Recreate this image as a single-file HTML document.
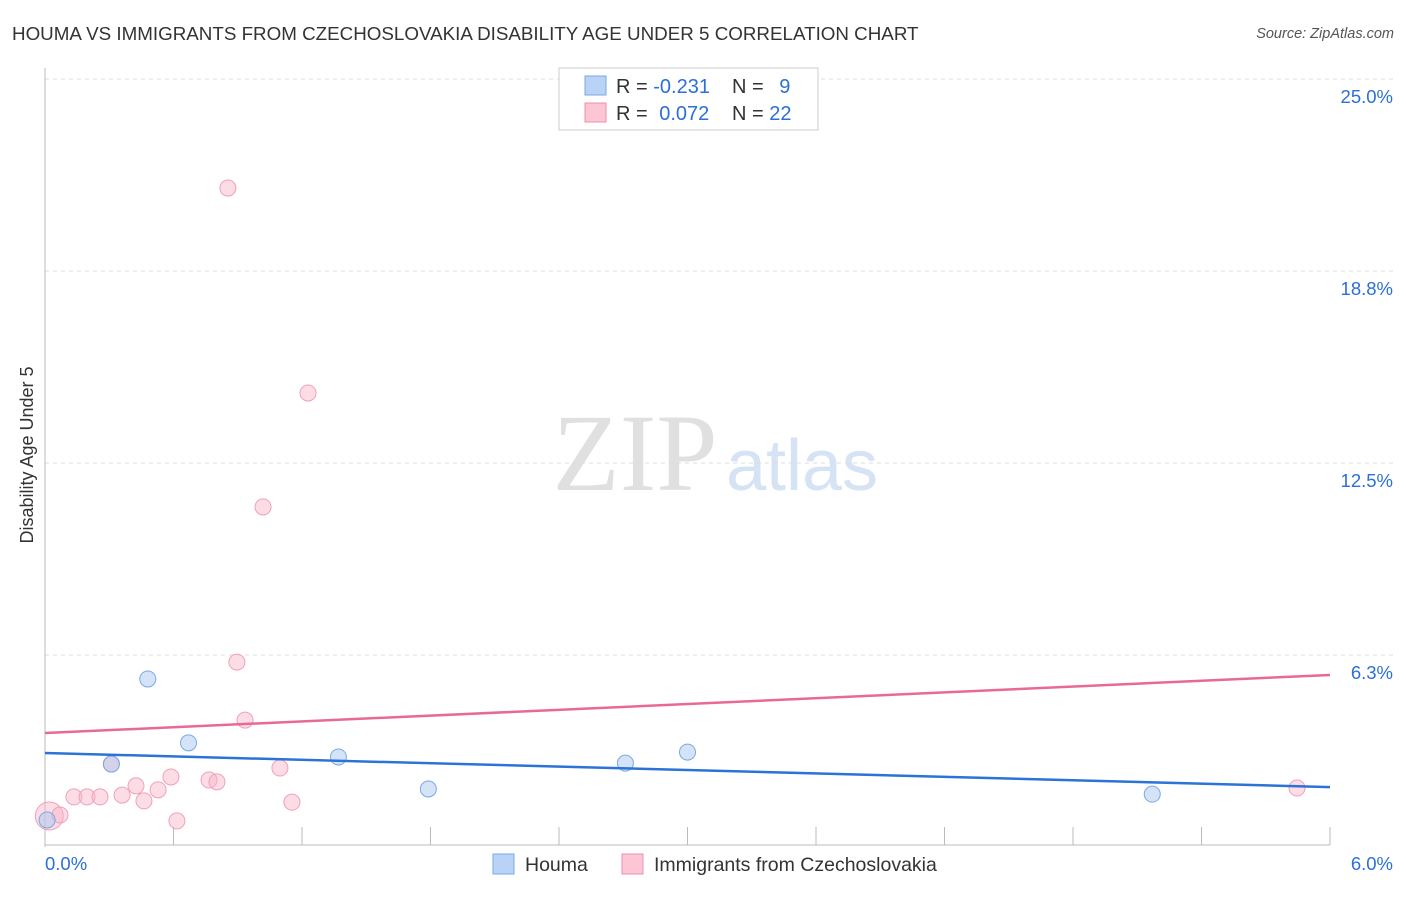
<!DOCTYPE html>
<html><head><meta charset="utf-8"><style>
body{margin:0;background:#fff;font-family:"Liberation Sans",sans-serif;}
svg text{font-family:"Liberation Sans",sans-serif;}
</style></head><body>
<svg id="c" width="1406" height="892">
<text x="12" y="40" font-size="18.8" fill="#333">HOUMA VS IMMIGRANTS FROM CZECHOSLOVAKIA DISABILITY AGE UNDER 5 CORRELATION CHART</text>
<text x="1394" y="38" font-size="14.5" fill="#555" font-style="italic" text-anchor="end">Source: ZipAtlas.com</text>
<text x="33" y="455" font-size="18" fill="#333" text-anchor="middle" transform="rotate(-90 33 455)">Disability Age Under 5</text>
<g><text x="635" y="490" font-size="110" fill="#e0e0e0" font-family="Liberation Serif" style="font-family:'Liberation Serif',serif" text-anchor="middle">ZIP</text><text x="802" y="490" font-size="72" fill="#d5e3f5" text-anchor="middle">atlas</text></g>
<g id="grid"></g><g id="marks"></g>
<g>
<rect x="559" y="68" width="259" height="62" fill="#fff" stroke="#ccc"/>
<rect x="585" y="76" width="21" height="19" fill="#b8d3f5" stroke="#7aa8e6"/>
<rect x="585" y="103" width="21" height="19" fill="#fcc6d5" stroke="#ee8fac"/>
<text x="616" y="93" font-size="20" fill="#333">R = <tspan fill="#2c6fd6">-0.231</tspan></text>
<text x="732" y="93" font-size="20" fill="#333">N = <tspan fill="#2c6fd6" dx="10">9</tspan></text>
<text x="616" y="120" font-size="20" fill="#333">R = <tspan fill="#2c6fd6" dx="6">0.072</tspan></text>
<text x="732" y="120" font-size="20" fill="#333">N = <tspan fill="#2c6fd6">22</tspan></text>
</g>
<g>
<rect x="493" y="854" width="21" height="20" fill="#b8d3f5" stroke="#7aa8e6"/>
<text x="525" y="871" font-size="19.5" fill="#333">Houma</text>
<rect x="622" y="854" width="21" height="20" fill="#fcc6d5" stroke="#ee8fac"/>
<text x="654" y="871" font-size="19.5" fill="#333">Immigrants from Czechoslovakia</text>
</g>
</svg>
<script>
const yTicks=[6.25,12.5,18.75,25];
const yTickLabels=["6.3%","12.5%","18.8%","25.0%"];
const xTickLabels=["0.0%","6.0%"];
const houmaX=[0.01,0.31,0.48,0.67,1.37,1.79,2.71,3.0,5.17];
const houmaY=[0.88,2.7,5.47,3.39,2.93,1.89,2.73,3.09,1.72];
const czX=[0.02,0.07,0.135,0.196,0.257,0.31,0.36,0.425,0.462,0.528,0.588,0.616,0.766,0.803,0.854,0.896,0.934,1.018,1.097,1.153,1.228,5.846];
const czY=[1.01,1.04,1.63,1.63,1.63,2.7,1.69,1.99,1.5,1.86,2.28,0.85,2.18,2.12,21.45,6.02,4.13,11.07,2.57,1.46,14.78,1.92];
const houmaTrend=[3.06,1.95];
const czTrend=[3.71,5.6];
const NS="http://www.w3.org/2000/svg";
const X=v=>45+v/6*1285, Y=v=>847-v/6.25*192;
function mk(t,a,p){const e=document.createElementNS(NS,t);for(const k in a)e.setAttribute(k,a[k]);p.appendChild(e);return e;}
const g=document.getElementById('grid'),m=document.getElementById('marks');
yTicks.forEach((t,i)=>{
 const l=mk('line',{x1:45,x2:1393,y1:Y(t),y2:Y(t),stroke:'#ddd','stroke-dasharray':'4 4'},g);
 
 
 const tx=mk('text',{x:1393,y:Y(t)+24,'font-size':18.5,fill:'#2c6fd6','text-anchor':'end'},g);
 tx.textContent=yTickLabels[i];
 
 
});
mk('line',{x1:45,x2:45,y1:68,y2:847,stroke:'#bbb'},g);
mk('line',{x1:45,x2:1330,y1:845,y2:845,stroke:'#bbb'},g);
for(let i=1;i<=10;i++){const x=X(i*0.6);mk('line',{x1:x,x2:x,y1:827,y2:845,stroke:'#bbb'},g);}
xTickLabels.forEach((s,i)=>{
 const tx=mk('text',{x:i?1393:45,y:870,'font-size':18.5,fill:'#2c6fd6','text-anchor':i?'end':'start'},g);
 tx.textContent=s;
 
 
});
czX.forEach((v,i)=>{
 const c=mk('circle',{cx:X(v),cy:Y(czY[i]),r:i==0?14:8,fill:'rgba(248,180,200,0.45)',stroke:'#f0a0b8','stroke-width':1},m);
 
 
});
houmaX.forEach((v,i)=>{
 const c=mk('circle',{cx:X(v),cy:Y(houmaY[i]),r:8,fill:'rgba(170,200,240,0.5)',stroke:'#7aa8e6','stroke-width':1},m);
 
 
});
const t1=mk('line',{x1:X(0),x2:X(6),y1:Y(houmaTrend[0]),y2:Y(houmaTrend[1]),stroke:'#2b73d6','stroke-width':2.5},m);


const t2=mk('line',{x1:X(0),x2:X(6),y1:Y(czTrend[0]),y2:Y(czTrend[1]),stroke:'#e86a94','stroke-width':2.5},m);


</script>
</body></html>
